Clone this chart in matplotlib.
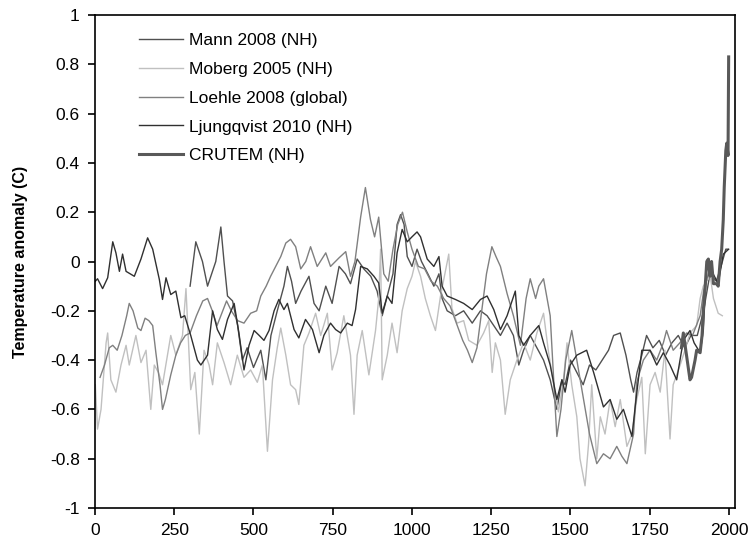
"""Millennial temperature reconstructions vs CRUTEM."""

import matplotlib

matplotlib.use("Agg")
import matplotlib.pyplot as plt

plt.rcParams["font.family"] = ["Liberation Sans", "DejaVu Sans"]

# Mann 2008 (NH)
mann_years = [300, 318, 339, 355, 381, 397, 407, 418, 434, 450, 465, 480, 500, 523, 539, 555, 575,
              596, 607, 620, 633, 650, 675, 691, 707, 728, 748, 770, 790, 806, 827, 848, 870, 890,
              906, 922, 940, 953, 964, 975, 985, 1000, 1016, 1030, 1050, 1069, 1085, 1095, 1111,
              1137, 1163, 1190, 1216, 1237, 1258, 1279, 1300, 1320, 1337, 1352, 1373, 1394, 1415,
              1436, 1457, 1473, 1483, 1500, 1520, 1540, 1560, 1580, 1600, 1620, 1636, 1657, 1675,
              1690, 1699, 1710, 1725, 1740, 1760, 1780, 1800, 1820, 1840, 1860, 1880, 1900, 1920,
              1940, 1960, 1975, 1990, 1995]
mann_vals = [-0.10, 0.08, 0.00, -0.10, 0.00, 0.14, 0.00, -0.14, -0.16, -0.26, -0.40, -0.35, -0.43,
             -0.36, -0.48, -0.30, -0.20, -0.10, -0.02, -0.08, -0.17, -0.12, -0.06, -0.17, -0.20,
             -0.10, -0.17, -0.02, -0.05, -0.09, 0.01, -0.03, -0.06, -0.12, -0.22, -0.14, -0.05,
             0.15, 0.19, 0.15, 0.02, -0.02, 0.05, 0.00, -0.05, -0.10, -0.05, -0.15, -0.20, -0.22,
             -0.20, -0.25, -0.20, -0.22, -0.26, -0.30, -0.25, -0.30, -0.42, -0.36, -0.30, -0.35,
             -0.40, -0.48, -0.60, -0.48, -0.50, -0.40, -0.45, -0.50, -0.42, -0.44, -0.40, -0.36,
             -0.30, -0.29, -0.38, -0.48, -0.53, -0.45, -0.38, -0.30, -0.35, -0.32, -0.38, -0.33,
             -0.30, -0.35, -0.30, -0.30, -0.20, -0.05, -0.08, -0.02, 0.05, 0.05]

# Moberg 2005 (NH)
moberg_years = [1, 8, 19, 35, 40, 50, 66, 82, 98, 108, 129, 145, 161, 176, 187, 200, 213, 239, 255,
                276, 287, 302, 315, 329, 344, 360, 371, 386, 407, 428, 449, 470, 491, 512, 528,
                544, 560, 575, 586, 602, 617, 633, 643, 659, 675, 696, 712, 733, 748, 764, 785,
                806, 817, 827, 843, 864, 885, 895, 901, 906, 922, 937, 953, 969, 985, 1000, 1011,
                1027, 1042, 1058, 1074, 1090, 1116, 1126, 1142, 1163, 1179, 1205, 1226, 1242, 1253,
                1263, 1279, 1294, 1310, 1331, 1352, 1373, 1394, 1415, 1431, 1447, 1462, 1478, 1489,
                1504, 1520, 1530, 1546, 1557, 1567, 1583, 1594, 1609, 1625, 1641, 1657, 1678, 1694,
                1709, 1725, 1736, 1751, 1767, 1783, 1798, 1814, 1824, 1846, 1861, 1877, 1898, 1909,
                1919, 1935, 1940, 1951, 1966, 1979]
moberg_vals = [-0.50, -0.68, -0.60, -0.33, -0.29, -0.48, -0.53, -0.42, -0.34, -0.42, -0.30, -0.41,
               -0.36, -0.60, -0.42, -0.45, -0.50, -0.30, -0.38, -0.30, -0.11, -0.52, -0.45, -0.70,
               -0.36, -0.42, -0.50, -0.33, -0.41, -0.50, -0.38, -0.47, -0.44, -0.49, -0.42, -0.77,
               -0.48, -0.35, -0.27, -0.38, -0.50, -0.52, -0.58, -0.34, -0.29, -0.21, -0.30, -0.21,
               -0.44, -0.37, -0.22, -0.38, -0.62, -0.38, -0.28, -0.46, -0.28, -0.15, 0.05, -0.48,
               -0.38, -0.25, -0.37, -0.20, -0.11, -0.06, 0.00, -0.06, -0.15, -0.22, -0.28, -0.14,
               0.03, -0.19, -0.25, -0.24, -0.32, -0.34, -0.29, -0.24, -0.45, -0.33, -0.40, -0.62,
               -0.48, -0.40, -0.33, -0.40, -0.29, -0.21, -0.37, -0.50, -0.61, -0.48, -0.33, -0.50,
               -0.63, -0.80, -0.91, -0.74, -0.50, -0.80, -0.63, -0.70, -0.56, -0.67, -0.56, -0.75,
               -0.70, -0.56, -0.47, -0.78, -0.50, -0.45, -0.53, -0.36, -0.72, -0.50, -0.42, -0.36,
               -0.29, -0.26, -0.15, -0.10, -0.07, -0.05, -0.15, -0.21, -0.22]

# Loehle 2008 (global)
loehle_years = [16, 30, 45, 56, 70, 85, 100, 108, 120, 135, 145, 158, 170, 182, 192, 205, 213, 222,
                239, 255, 270, 285, 300, 320, 340, 355, 370, 385, 400, 415, 430, 450, 470, 491, 510,
                523, 540, 554, 570, 586, 602, 617, 633, 649, 665, 680, 701, 728, 743, 770, 791, 806,
                820, 838, 853, 869, 882, 895, 911, 925, 940, 955, 970, 985, 1000, 1020, 1040, 1060,
                1080, 1100, 1120, 1140, 1160, 1175, 1190, 1205, 1220, 1235, 1252, 1265, 1279, 1300,
                1320, 1342, 1360, 1373, 1390, 1400, 1415, 1436, 1450, 1457, 1470, 1485, 1504, 1520,
                1540, 1560, 1583, 1604, 1625, 1646, 1662, 1678, 1699, 1709, 1730, 1751, 1772, 1793,
                1803, 1824, 1845, 1866, 1885, 1909, 1920, 1935]
loehle_vals = [-0.47, -0.42, -0.35, -0.34, -0.36, -0.30, -0.22, -0.17, -0.20, -0.27, -0.28, -0.23,
               -0.24, -0.26, -0.37, -0.50, -0.60, -0.56, -0.46, -0.38, -0.33, -0.30, -0.29, -0.22,
               -0.16, -0.15, -0.20, -0.26, -0.21, -0.16, -0.20, -0.24, -0.25, -0.21, -0.20, -0.14,
               -0.10, -0.06, -0.02, 0.02, 0.075, 0.09, 0.06, -0.03, 0.00, 0.06, -0.02, 0.035, -0.02,
               0.015, 0.04, -0.06, 0.00, 0.18, 0.30, 0.17, 0.10, 0.18, -0.05, -0.08, 0.05, 0.15,
               0.20, 0.12, 0.05, -0.02, -0.03, -0.08, -0.10, -0.15, -0.18, -0.25, -0.32, -0.36,
               -0.41, -0.35, -0.20, -0.05, 0.06, 0.02, -0.02, -0.13, -0.22, -0.34, -0.15, -0.07,
               -0.15, -0.10, -0.07, -0.22, -0.55, -0.71, -0.60, -0.40, -0.28, -0.40, -0.55, -0.70,
               -0.82, -0.78, -0.80, -0.75, -0.79, -0.82, -0.70, -0.49, -0.40, -0.36, -0.40, -0.33,
               -0.28, -0.36, -0.33, -0.29, -0.30, -0.22, -0.12, -0.05]

# Ljungqvist 2010 (NH)
ljung_years = [1, 8, 24, 40, 56, 66, 77, 87, 98, 124, 145, 166, 182, 203, 213, 224, 239, 255, 271,
               283, 302, 323, 334, 355, 371, 386, 402, 418, 439, 454, 470, 486, 502, 518, 533, 549,
               565, 580, 596, 607, 628, 643, 664, 686, 707, 722, 743, 759, 775, 796, 811, 822, 838,
               859, 880, 895, 906, 922, 937, 953, 969, 985, 1000, 1016, 1027, 1048, 1069, 1085,
               1095, 1111, 1137, 1163, 1190, 1216, 1237, 1258, 1279, 1300, 1326, 1337, 1352, 1373,
               1400, 1415, 1436, 1457, 1473, 1483, 1499, 1520, 1551, 1573, 1604, 1625, 1646, 1667,
               1694, 1704, 1725, 1751, 1772, 1793, 1814, 1835, 1856, 1877, 1890, 1909, 1919, 1930,
               1950, 1966, 1982, 1999]
ljung_vals = [-0.08, -0.07, -0.11, -0.066, 0.08, 0.035, -0.04, 0.03, -0.04, -0.06, 0.01, 0.096,
              0.05, -0.073, -0.154, -0.066, -0.134, -0.12, -0.228, -0.22, -0.30, -0.40, -0.42,
              -0.38, -0.20, -0.276, -0.316, -0.235, -0.17, -0.29, -0.44, -0.34, -0.28, -0.30,
              -0.32, -0.28, -0.20, -0.154, -0.195, -0.17, -0.276, -0.31, -0.235, -0.276, -0.37,
              -0.30, -0.25, -0.276, -0.29, -0.25, -0.26, -0.195, -0.02, -0.03, -0.06, -0.087,
              -0.21, -0.14, -0.17, 0.035, 0.13, 0.08, 0.10, 0.12, 0.10, 0.01, -0.02, 0.02, -0.10,
              -0.14, -0.154, -0.17, -0.195, -0.154, -0.14, -0.195, -0.276, -0.22, -0.12, -0.30,
              -0.34, -0.30, -0.26, -0.33, -0.42, -0.56, -0.48, -0.53, -0.42, -0.38, -0.36, -0.45,
              -0.59, -0.56, -0.64, -0.60, -0.71, -0.59, -0.36, -0.36, -0.42, -0.37, -0.42, -0.48,
              -0.32, -0.28, -0.33, -0.37, -0.28, 0.00, -0.05, -0.09, 0.03, 0.05]

# CRUTEM (NH)
crutem_years = [1850, 1856, 1866, 1877, 1882, 1893, 1898, 1909, 1915, 1919, 1925, 1930, 1935, 1940,
                1945, 1951, 1961, 1966, 1972, 1977, 1982, 1985, 1990, 1993, 1997, 1999]
crutem_vals = [-0.35, -0.29, -0.38, -0.48, -0.47, -0.40, -0.36, -0.37, -0.30, -0.20, -0.10, 0.00,
               0.01, -0.06, 0.00, -0.09, -0.09, -0.10, 0.00, 0.05, 0.17, 0.30, 0.45, 0.48, 0.43,
               0.83]

x_ticks = [0, 250, 500, 750, 1000, 1250, 1500, 1750, 2000]
y_ticks = [1, 0.8, 0.6, 0.4, 0.2, 0, -0.2, -0.4, -0.6, -0.8, -1]
y_tick_labels = ["1", "0.8", "0.6", "0.4", "0.2", "0", "-0.2", "-0.4", "-0.6", "-0.8", "-1"]

fig = plt.figure(figsize=(7.51, 5.51), dpi=100)
ax = fig.add_axes([95 / 751, (551 - 508) / 551, 640 / 751, 493 / 551])

ax.plot(mann_years, mann_vals, color="#505050", lw=1.0, label="Mann 2008 (NH)")
ax.plot(moberg_years, moberg_vals, color="#c0c0c0", lw=1.0, label="Moberg 2005 (NH)")
ax.plot(loehle_years, loehle_vals, color="#808080", lw=1.0, label="Loehle 2008 (global)")
ax.plot(ljung_years, ljung_vals, color="#303030", lw=1.0, label="Ljungqvist 2010 (NH)")
ax.plot(crutem_years, crutem_vals, color="#595959", lw=2.2, label="CRUTEM (NH)")

ax.set_xlim(0, 2019)
ax.set_ylim(-1, 1)
ax.set_xticks(x_ticks)
ax.set_xticklabels([str(t) for t in x_ticks])
ax.set_yticks(y_ticks)
ax.set_yticklabels(y_tick_labels)
ax.tick_params(direction="out", length=5, width=1.2, labelsize=12.5, pad=6, colors="black")
for spine in ax.spines.values():
    spine.set_linewidth(1.2)
    spine.set_color("black")

ax.set_ylabel("Temperature anomaly (C)", fontsize=11.5, fontweight="bold", labelpad=16)

ax.legend(loc="upper left", bbox_to_anchor=(0.058, 0.977), frameon=False, fontsize=12.5,
          handlelength=2.55, handletextpad=0.3, labelspacing=0.78, borderaxespad=0)

fig.savefig("out.png", dpi=100)
plt.close(fig)
